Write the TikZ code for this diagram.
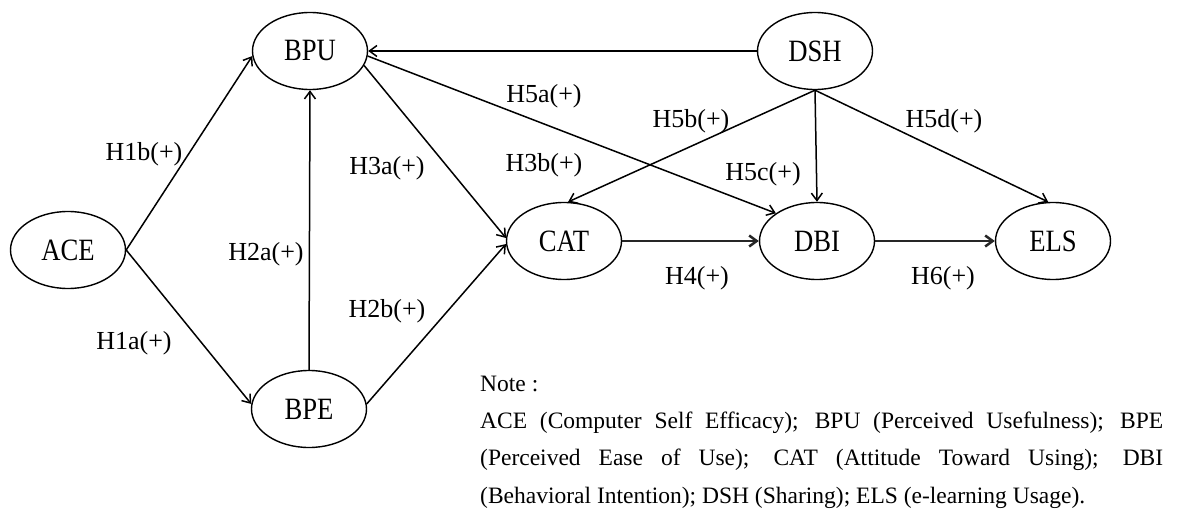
\documentclass[tikz,border=0pt]{standalone}
\usepackage{fontspec}
\setmainfont{Liberation Serif}
\newfontfamily\narrowserif{Liberation Serif}[FakeStretch=0.86]
\usetikzlibrary{shapes.geometric,arrows.meta}
\hbadness=10000
\begin{document}
\begin{tikzpicture}[x=1pt,y=-1pt,
  construct/.style={draw, ellipse, line width=1.4pt, minimum width=115pt,
    minimum height=77pt, inner sep=0pt,
    font=\narrowserif\fontsize{31}{36}\selectfont},
  link/.style={line width=1.5pt, -{Straight Barb[length=7.5pt,width=11pt]}},
  heavylink/.style={link, line width=2.5pt, black!85},
  hyp/.style={font=\fontsize{26}{30}\selectfont, inner sep=0pt}]
\useasboundingbox (0,0) rectangle (1188,516);

% constructs
\node[construct] (ace) at (68,250)   {ACE};
\node[construct] (bpu) at (310,51)   {BPU};
\node[construct] (bpe) at (309,409)  {BPE};
\node[construct] (cat) at (564,241)  {CAT};
\node[construct] (dbi) at (817,241)  {DBI};
\node[construct] (els) at (1053,241) {ELS};
\node[construct] (dsh) at (815,51)   {DSH};

% paths
\draw[link] (ace.east) -- (bpu.185);
\draw[link] (ace.east) -- (bpe.175);
\draw[link] (bpe.north) -- (bpu.south);
\draw[link] (bpe.5) -- (cat.183);
\draw[link] (bpu.-15) -- (cat.177);
\draw[link] (dsh.west) -- (bpu.east);
\draw[link] (bpu.-5) -- (dbi.146);
\draw[link] (dsh.south) -- (cat.84);
\draw[link] (dsh.south) -- (dbi.north);
\draw[link] (dsh.south) -- (els.97);
\draw[heavylink] (cat.east) -- (dbi.west);
\draw[heavylink] (dbi.east) -- (els.west);

% hypothesis labels
\node[hyp] (h1b) at (144,154) {H1b(+)};
\node[hyp] (h1a) at (134,343) {H1a(+)};
\node[hyp] (h2a) at (266,254) {H2a(+)};
\node[hyp] (h2b) at (387,311) {H2b(+)};
\node[hyp] (h3a) at (387,168) {H3a(+)};
\node[hyp] (h3b) at (544,165) {H3b(+)};
\node[hyp] (h5a) at (544,96)  {H5a(+)};
\node[hyp] (h5b) at (691,121) {H5b(+)};
\node[hyp] (h5c) at (763,174) {H5c(+)};
\node[hyp] (h5d) at (944,121) {H5d(+)};
\node[hyp] (h4)  at (697,278) {H4(+)};
\node[hyp] (h6)  at (943,278) {H6(+)};

% legend
\node[anchor=base west, inner sep=0pt, font=\fontsize{23.5}{37.5}\selectfont]
  (notehead) at (480,391) {Note :};
\node[anchor=base west, inner sep=0pt, text width=683pt, align=justify,
  font=\fontsize{23.5}{37.5}\selectfont] (notebody) at (480,428)
  {ACE (Computer Self Efficacy); BPU (Perceived Usefulness); BPE\linebreak
   (Perceived Ease of Use); CAT (Attitude Toward Using); DBI\linebreak
   (Behavioral Intention); DSH (Sharing); ELS (e-learning Usage).};
\end{tikzpicture}
\end{document}
